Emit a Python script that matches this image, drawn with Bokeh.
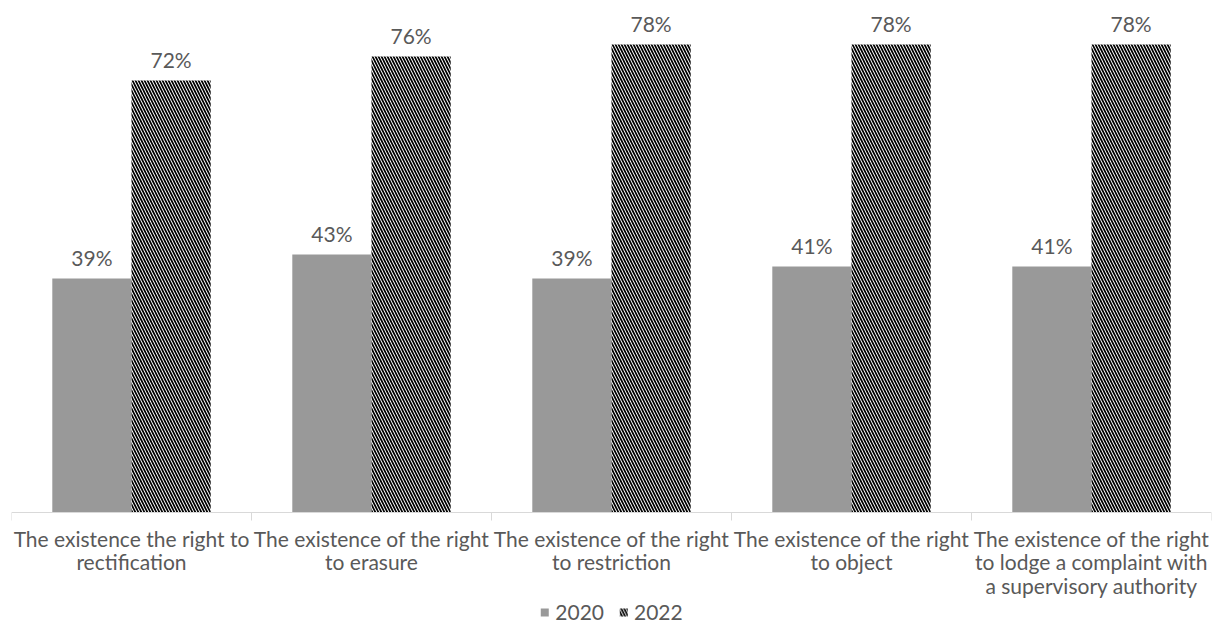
import numpy as np
from bokeh.plotting import figure
from bokeh.models import (Range1d, FixedTicker, ColumnDataSource, Legend, LegendItem)
from bokeh.core.properties import value
from bokeh.embed import file_html
from bokeh.resources import INLINE

categories = [
    "The existence the right to\nrectification",
    "The existence of the right\nto erasure",
    "The existence of the right\nto restriction",
    "The existence of the right\nto object",
    "The existence of the right\nto lodge a complaint with\na supervisory authority",
]
values_2020 = [39, 43, 39, 41, 41]
values_2022 = [72, 76, 78, 78, 78]
series_names = ["2020", "2022"]

FONT = "Lato"
TEXT_COLOR = "#595959"
GRAY = "#999999"
BAR_W = 0.33
OFFSET = 0.165
PX_PER_UNIT = 6.0      # vertical scale: pixels per percentage point
FRAME_H = 631
BASE_PX = 512          # distance of the zero line from the top

idx = np.arange(len(categories))
centers = idx + 0.5

src20 = ColumnDataSource(dict(x=centers - OFFSET, top=values_2020,
                              label=[f"{v}%" for v in values_2020]))
src22 = ColumnDataSource(dict(x=centers + OFFSET, top=values_2022,
                              label=[f"{v}%" for v in values_2022]))

y_top = BASE_PX / PX_PER_UNIT
y_bottom = -(FRAME_H - BASE_PX) / PX_PER_UNIT

p = figure(frame_width=1200, frame_height=FRAME_H, output_backend="svg",
           toolbar_location=None,
           x_range=Range1d(0, len(categories)), y_range=Range1d(y_bottom, y_top),
           y_axis_location=None, min_border_left=11, min_border_right=2,
           min_border_top=0, min_border_bottom=0)
p.outline_line_color = None
p.grid.visible = False
p.background_fill_color = "white"
p.border_fill_color = "white"

r20 = p.vbar(x="x", top="top", bottom=0, width=BAR_W, source=src20,
             fill_color=GRAY, line_color=None)
r22 = p.vbar(x="x", top="top", bottom=0, width=BAR_W, source=src22,
             fill_color="white", line_color=None,
             hatch_pattern="\\", hatch_color="black",
             hatch_scale=6, hatch_weight=1.7)

for src in (src20, src22):
    p.text(x="x", y="top", text="label", source=src,
           text_align="center", text_baseline="bottom", y_offset=-9,
           text_font=value(FONT), text_font_size="21px", text_color=TEXT_COLOR)

# category axis sits on the zero line, with boundary ticks between groups
xa = p.xaxis[0]
xa.fixed_location = 0
xa.ticker = FixedTicker(ticks=list(centers), minor_ticks=list(range(len(categories) + 1)))
xa.major_label_overrides = {float(c): lab for c, lab in zip(centers, categories)}
xa.major_tick_out = 0
xa.major_tick_in = 0
xa.minor_tick_out = 8
xa.minor_tick_in = 0
xa.minor_tick_line_color = "#d9d9d9"
xa.axis_line_color = "#d9d9d9"
xa.axis_line_width = 1
xa.major_label_standoff = 5
xa.major_label_text_font = FONT
xa.major_label_text_font_size = "21px"
xa.major_label_text_line_height = 0.94
xa.major_label_text_color = TEXT_COLOR

legend = Legend(items=[LegendItem(label=series_names[0], renderers=[r20]),
                       LegendItem(label=series_names[1], renderers=[r22])],
                orientation="horizontal", location="bottom_center",
                label_text_font=FONT, label_text_font_size="21px",
                label_text_color=TEXT_COLOR, label_height=18,
                glyph_width=10, glyph_height=10,
                spacing=14, label_standoff=6, padding=0, margin=7,
                border_line_color=None, background_fill_alpha=0)
p.add_layout(legend)

open("out.html", "w").write(file_html(p, INLINE))
